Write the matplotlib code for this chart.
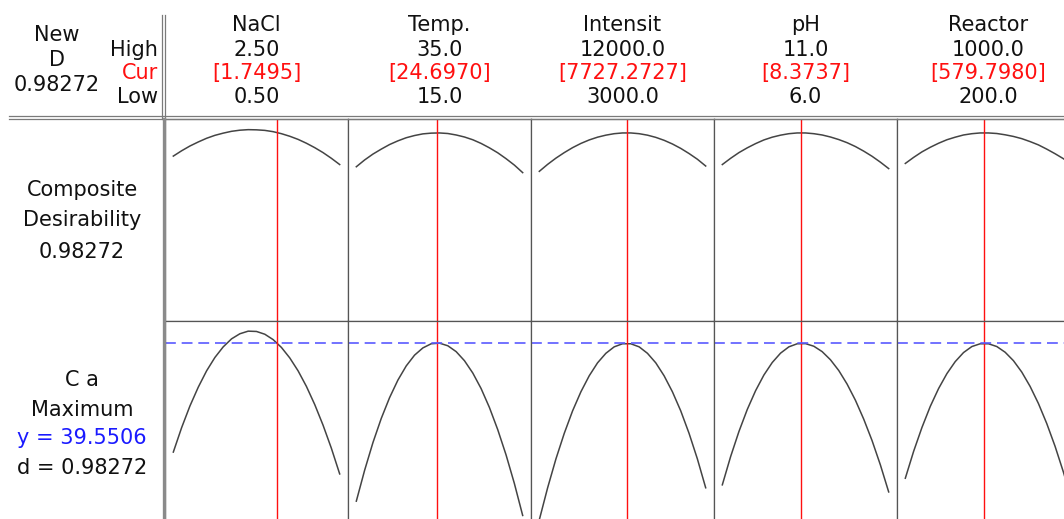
import matplotlib.pyplot as plt
from matplotlib.lines import Line2D

# factor settings (header)
factors = ['NaCl', 'Temp.', 'Intensit', 'pH', 'Reactor']
high_labels = ['2.50', '35.0', '12000.0', '11.0', '1000.0']
cur_labels = ['[1.7495]', '[24.6970]', '[7727.2727]', '[8.3737]', '[579.7980]']
low_labels = ['0.50', '15.0', '3000.0', '6.0', '200.0']
lows = [0.5, 15.0, 3000.0, 6.0, 200.0]
highs = [2.5, 35.0, 12000.0, 11.0, 1000.0]
currents = [1.7495, 24.6970, 7727.2727, 8.3737, 579.7980]

# x positions along each factor range
x_nacl = [0.5, 0.6, 0.7, 0.8, 0.9, 1.0, 1.1, 1.2, 1.3, 1.4, 1.5,
          1.6, 1.7, 1.8, 1.9, 2.0, 2.1, 2.2, 2.3, 2.4, 2.5]
x_temp = [15, 16, 17, 18, 19, 20, 21, 22, 23, 24, 25,
          26, 27, 28, 29, 30, 31, 32, 33, 34, 35]
x_int = [3000, 3450, 3900, 4350, 4800, 5250, 5700, 6150, 6600, 7050, 7500,
         7950, 8400, 8850, 9300, 9750, 10200, 10650, 11100, 11550, 12000]
x_ph = [6.0, 6.25, 6.5, 6.75, 7.0, 7.25, 7.5, 7.75, 8.0, 8.25, 8.5,
        8.75, 9.0, 9.25, 9.5, 9.75, 10.0, 10.25, 10.5, 10.75, 11.0]
x_reac = [200, 240, 280, 320, 360, 400, 440, 480, 520, 560, 600,
          640, 680, 720, 760, 800, 840, 880, 920, 960, 1000]

# composite desirability traces (top row)
d_nacl = [0.853, 0.882, 0.908, 0.930, 0.950, 0.966, 0.978, 0.988, 0.994, 0.997, 0.996,
          0.993, 0.986, 0.975, 0.961, 0.944, 0.923, 0.899, 0.872, 0.841, 0.807]
d_temp = [0.795, 0.832, 0.864, 0.891, 0.916, 0.936, 0.953, 0.965, 0.974, 0.978, 0.979,
          0.976, 0.968, 0.957, 0.942, 0.922, 0.898, 0.871, 0.839, 0.804, 0.763]
d_int = [0.770, 0.808, 0.842, 0.872, 0.899, 0.922, 0.941, 0.956, 0.967, 0.975, 0.979,
         0.979, 0.975, 0.967, 0.955, 0.939, 0.919, 0.895, 0.867, 0.836, 0.799]
d_ph = [0.807, 0.841, 0.872, 0.898, 0.921, 0.941, 0.956, 0.967, 0.975, 0.979, 0.979,
        0.975, 0.968, 0.957, 0.943, 0.926, 0.905, 0.880, 0.852, 0.820, 0.785]
d_reac = [0.813, 0.846, 0.876, 0.901, 0.923, 0.942, 0.956, 0.968, 0.975, 0.979, 0.979,
          0.976, 0.969, 0.960, 0.948, 0.932, 0.914, 0.891, 0.866, 0.839, 0.807]

# predicted C a traces (bottom row)
y_nacl = [32.48, 34.07, 35.48, 36.70, 37.76, 38.63, 39.32, 39.84, 40.17, 40.34, 40.32,
          40.14, 39.79, 39.28, 38.60, 37.76, 36.75, 35.57, 34.23, 32.73, 31.06]
y_temp = [29.29, 31.30, 33.10, 34.67, 36.02, 37.16, 38.08, 38.78, 39.25, 39.52, 39.56,
          39.39, 39.01, 38.42, 37.62, 36.61, 35.38, 33.94, 32.30, 30.44, 28.36]
y_int = [28.08, 30.16, 32.04, 33.70, 35.16, 36.40, 37.44, 38.28, 38.90, 39.32, 39.52,
         39.52, 39.32, 38.90, 38.28, 37.44, 36.40, 35.16, 33.70, 32.04, 30.16]
y_ph = [30.35, 32.19, 33.82, 35.25, 36.47, 37.49, 38.30, 38.91, 39.32, 39.52, 39.53,
        39.36, 39.01, 38.48, 37.78, 36.90, 35.85, 34.62, 33.23, 31.65, 29.89]
y_reac = [30.78, 32.53, 34.08, 35.45, 36.61, 37.58, 38.36, 38.95, 39.34, 39.52, 39.52,
          39.34, 38.97, 38.42, 37.68, 36.75, 35.64, 34.34, 32.86, 31.19, 29.34]

y_opt = 39.5506
d_opt = 0.98272

xs = [x_nacl, x_temp, x_int, x_ph, x_reac]
ds = [d_nacl, d_temp, d_int, d_ph, d_reac]
ys = [y_nacl, y_temp, y_int, y_ph, y_reac]

W, H = 1064, 519
fig = plt.figure(figsize=(W / 100, H / 100), dpi=100)
plt.rcParams['font.family'] = ['DejaVu Sans']

def fx(px):
    return px / W

def fy(py):
    return 1 - py / H

def txt(x, y, s, color='#111111', ha='center', size=15):
    fig.text(fx(x), fy(y), s, ha=ha, va='center', color=color, fontsize=size)

def fline(x0, y0, x1, y1, color='#7a7a7a', lw=0.9):
    fig.add_artist(Line2D([fx(x0), fx(x1)], [fy(y0), fy(y1)], color=color, lw=lw,
                          transform=fig.transFigure))

RED = '#ff1010'
panel_w = 183
for i in range(5):
    left = 165 + i * panel_w
    rng = highs[i] - lows[i]
    xlim = (lows[i] - 0.05 * rng, highs[i] + 0.05 * rng)

    ax1 = fig.add_axes([fx(left), fy(321), panel_w / W, 202 / H])
    ax1.plot(xs[i], ds[i], color='#444444', lw=1.1)
    ax1.axvline(currents[i], color=RED, lw=1.0)
    ax1.set_xlim(*xlim)
    ax1.set_ylim(-0.045, 1.055)

    ax2 = fig.add_axes([fx(left), fy(521), panel_w / W, 200 / H])
    ax2.plot(xs[i], ys[i], color='#444444', lw=1.1)
    ax2.axvline(currents[i], color=RED, lw=1.0)
    ax2.axhline(y_opt, color='#5a5aff', lw=1.2, dashes=(6.5, 3.5))
    ax2.set_xlim(*xlim)
    ax2.set_ylim(28.0, 41.0)

    for ax in (ax1, ax2):
        ax.set_xticks([])
        ax.set_yticks([])
        for sp in ax.spines.values():
            sp.set_color('#555555')
            sp.set_linewidth(0.9)

    cx = left + panel_w / 2
    txt(cx, 25, factors[i])
    txt(cx, 50, high_labels[i])
    txt(cx, 73, cur_labels[i], color=RED)
    txt(cx, 97, low_labels[i])

# frame lines around the header and the label column
fline(9, 116, W, 116)
fline(9, 119, W, 119)
fline(162, 15, 162, 119)
fline(165, 15, 165, 119)
fline(163.5, 119, 163.5, H, color='#8a8a8a', lw=2.4)

# header labels
txt(57, 35, 'New')
txt(57, 60, 'D')
txt(57, 85, '%.5f' % d_opt)
txt(158, 50, 'High', ha='right')
txt(158, 73, 'Cur', color=RED, ha='right')
txt(158, 97, 'Low', ha='right')

# row labels
txt(82, 190, 'Composite')
txt(82, 220, 'Desirability')
txt(82, 252, '%.5f' % d_opt)
txt(82, 380, 'C a')
txt(82, 410, 'Maximum')
txt(82, 438, 'y = %.4f' % y_opt, color='#1a1aff')
txt(82, 468, 'd = %.5f' % d_opt)

fig.savefig('out.png', dpi=100)
